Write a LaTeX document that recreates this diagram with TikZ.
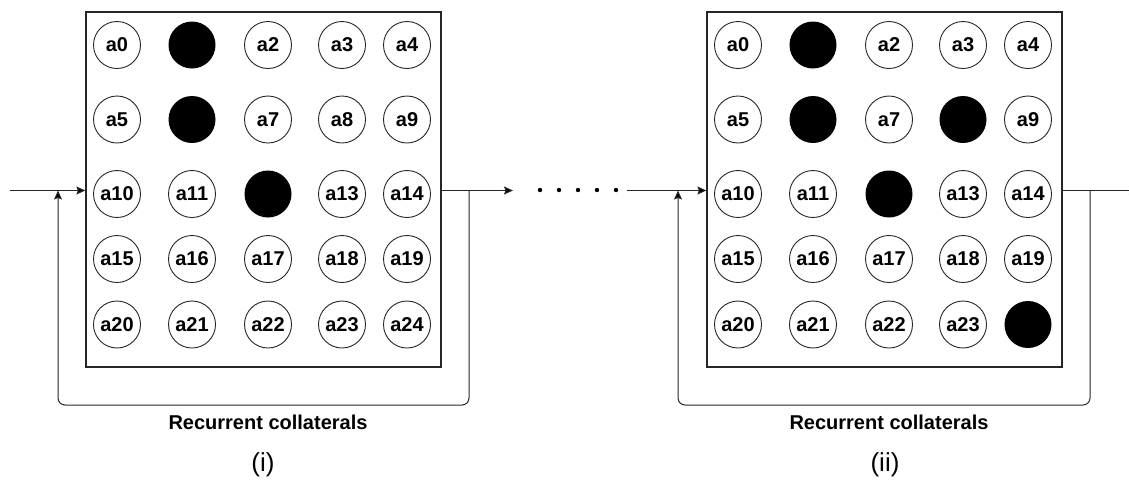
\documentclass[tikz,border=0pt]{standalone}
\usepackage{fontspec}
\setmainfont{Liberation Sans}
\usetikzlibrary{arrows.meta}

\tikzset{
  cell/.style={circle, draw=black!85, line width=0.9pt, minimum size=47pt, inner sep=0pt,
    font=\fontsize{20}{20}\selectfont\bfseries},
  spike/.style={circle, fill=black, minimum size=47pt, inner sep=0pt},
  layer/.style={draw=black!85, line width=1.3pt, minimum width=355pt, minimum height=355pt},
  wire/.style={draw=black!85, line width=1pt},
  tip/.style={-{Stealth[length=9pt,width=8pt,inset=1.5pt,fill=black]}}
}

\begin{document}
\begin{tikzpicture}[x=1pt,y=-1pt]
        \useasboundingbox (0,0) rectangle (1129,480);

        % Draw the two layers
        \node[layer] (boxi) at (263.5,189.5) {};
        \node[layer] (boxii) at (884.5,189.5) {};

        % Cells of layer (i)
        \foreach \r/\y in {0/45,1/119.5,2/194,3/259,4/324.5} {
            \foreach \c/\x in {0/117,1/192,2/268,3/342,4/407} {
                \pgfmathtruncatemacro\k{5*\r+\c}
                \pgfmathtruncatemacro\on{(\k==1)||(\k==6)||(\k==12)}
                \ifnum\on=1
                    \node[spike] (A\k) at (\x,\y) {};
                \else
                    \node[cell] (A\k) at (\x,\y) {a\k};
                \fi
            }
        }

        % Cells of layer (ii)
        \foreach \r/\y in {0/45,1/119.5,2/194,3/259,4/324.5} {
            \foreach \c/\x in {0/738,1/813,2/889,3/963,4/1028} {
                \pgfmathtruncatemacro\k{5*\r+\c}
                \pgfmathtruncatemacro\on{(\k==1)||(\k==6)||(\k==8)||(\k==12)||(\k==24)}
                \ifnum\on=1
                    \node[spike] (B\k) at (\x,\y) {};
                \else
                    \node[cell] (B\k) at (\x,\y) {a\k};
                \fi
            }
        }

        % Inputs, outputs and feedback of layer (i)
        \coordinate (ini) at (10,190.5);
        \coordinate (outi) at (513,190.5);
        \coordinate (joini) at (58,190.5);
        \coordinate (tapi) at (469,190.5);
        \draw[wire,tip] (ini) -- (boxi.west |- ini);
        \draw[wire,tip] (boxi.east |- ini) -- (outi);
        \draw[wire,tip,rounded corners=7pt] (tapi) -- (469,405) -- (58,405) -- (joini);

        % the dots between
        \foreach \x in {540,559,578,597,616}
            \fill (\x,190) circle (2.2);

        % Inputs, outputs and feedback of layer (ii)
        \coordinate (inii) at (627,190.5);
        \coordinate (outii) at (1138,190.5);
        \coordinate (joinii) at (678,190.5);
        \coordinate (tapii) at (1090,190.5);
        \draw[wire,tip] (inii) -- (boxii.west |- inii);
        \draw[wire,tip] (boxii.east |- inii) -- (outii);
        \draw[wire,tip,rounded corners=7pt] (tapii) -- (1090,405) -- (678,405) -- (joinii);

        % Labels
        \node[font=\fontsize{20}{20}\selectfont\bfseries] (reci) at (268,422) {Recurrent collaterals};
        \node[font=\fontsize{20}{20}\selectfont\bfseries] (recii) at (889,422) {Recurrent collaterals};
        \node[font=\fontsize{26}{26}\selectfont] (capi) at (263,465) {(i)};
        \node[font=\fontsize{26}{26}\selectfont] (capii) at (885,465) {(ii)};
    \end{tikzpicture}
\end{document}
